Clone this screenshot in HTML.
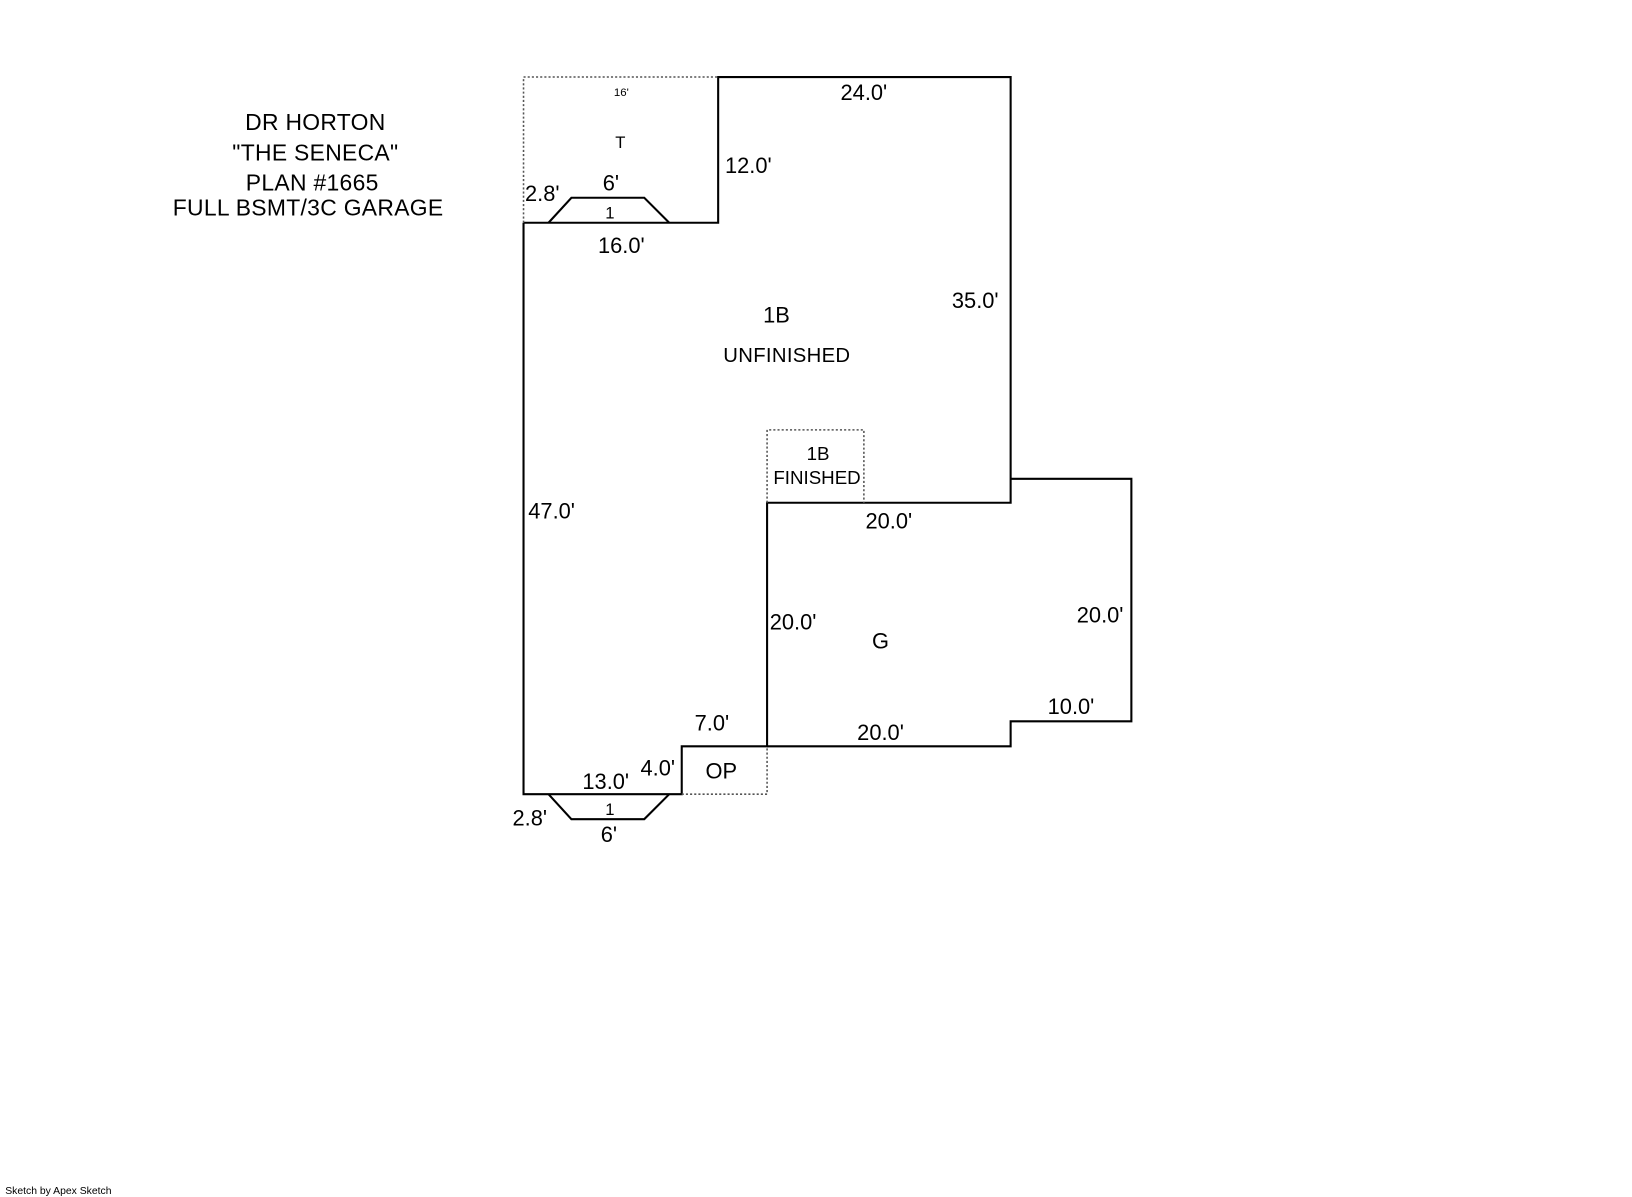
<!DOCTYPE html>
<html><head><meta charset="utf-8"><style>
html,body{margin:0;padding:0;background:#fff;}
svg{display:block;}
text{font-family:"Liberation Sans",sans-serif;fill:#000;}
</style></head><body>
<svg width="1632" height="1197" viewBox="0 0 1568 1150" preserveAspectRatio="none" xmlns="http://www.w3.org/2000/svg">
<g fill="none" stroke="#000" stroke-width="2">
<polyline points="503,214 690,214 690,74 971,74 971,483 737,483 737,717 655,717 655,763 503,763 503,214"/>
<polyline points="737,717 971,717 971,693 1087,693 1087,460 971,460"/>
<polyline points="527,214 549,190 619,190 643,214"/>
<polyline points="527,763 549,787 619,787 643,763"/>
</g>
<g fill="none" stroke="#555" stroke-width="1.5" stroke-dasharray="2,2">
<polyline points="503,214 503,74 690,74"/>
<polyline points="655,763 737,763 737,717"/>
<polyline points="737,483 737,413 830,413 830,483"/>
</g>
<g font-size="22" text-anchor="middle" letter-spacing="0.3">
<text x="303" y="125">DR HORTON</text>
<text x="303" y="154">"THE SENECA"</text>
<text x="300" y="183">PLAN #1665</text>
<text x="296" y="207">FULL BSMT/3C GARAGE</text>
</g>
<g font-size="21" text-anchor="middle">
<text x="830" y="96">24.0'</text>
<text x="719" y="166">12.0'</text>
<text x="521" y="193">2.8'</text>
<text x="587" y="183">6'</text>
<text x="597" y="243">16.0'</text>
<text x="746" y="310">1B</text>
<text x="937" y="296">35.0'</text>
<text x="530" y="498">47.0'</text>
<text x="854" y="508">20.0'</text>
<text x="762" y="605">20.0'</text>
<text x="846" y="623">G</text>
<text x="1057" y="598">20.0'</text>
<text x="1029" y="686">10.0'</text>
<text x="846" y="711">20.0'</text>
<text x="684" y="702">7.0'</text>
<text x="632" y="745">4.0'</text>
<text x="693" y="748">OP</text>
<text x="582" y="758">13.0'</text>
<text x="509" y="793">2.8'</text>
<text x="585" y="809">6'</text>
</g>
<g font-size="19.5" text-anchor="middle" letter-spacing="0.3">
<text x="756" y="348">UNFINISHED</text>
</g>
<g font-size="18" text-anchor="middle">
<text x="786" y="442">1B</text>
<text x="785" y="465">FINISHED</text>
</g>
<g font-size="16" text-anchor="middle">
<text x="596" y="142">T</text>
<text x="586" y="210">1</text>
<text x="586" y="783">1</text>
</g>
<text x="597" y="92" font-size="11" text-anchor="middle">16'</text>
<text x="5" y="1147" font-size="10">Sketch by Apex Sketch</text>
</svg>
</body></html>
